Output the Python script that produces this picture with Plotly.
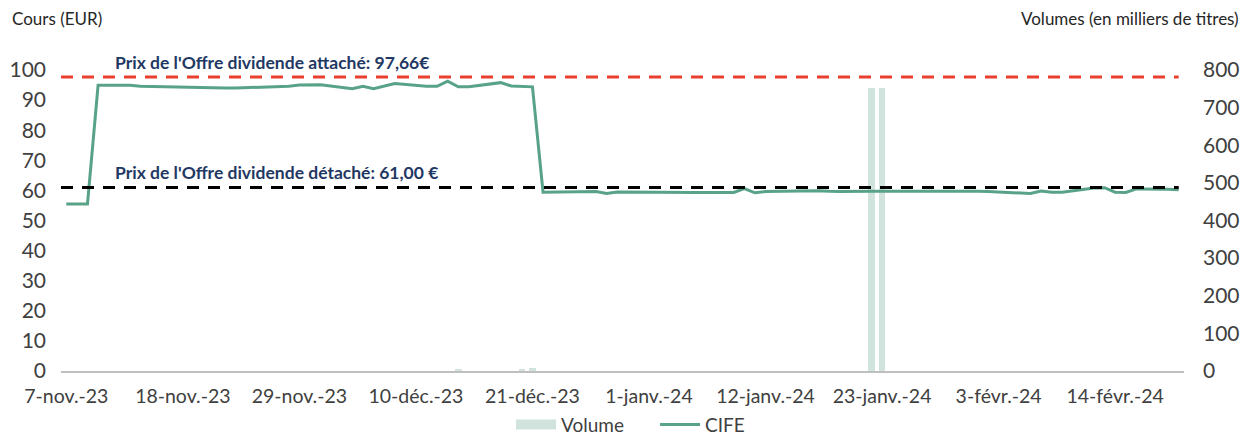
import plotly.graph_objects as go

# Séances de cotation (Euronext Paris)
dates = [
    "2023-11-07", "2023-11-08", "2023-11-09", "2023-11-10",
    "2023-11-13", "2023-11-14", "2023-11-15", "2023-11-16", "2023-11-17",
    "2023-11-20", "2023-11-21", "2023-11-22", "2023-11-23", "2023-11-24",
    "2023-11-27", "2023-11-28", "2023-11-29", "2023-11-30", "2023-12-01",
    "2023-12-04", "2023-12-05", "2023-12-06", "2023-12-07", "2023-12-08",
    "2023-12-11", "2023-12-12", "2023-12-13", "2023-12-14", "2023-12-15",
    "2023-12-18", "2023-12-19", "2023-12-20", "2023-12-21", "2023-12-22",
    "2023-12-27", "2023-12-28", "2023-12-29",
    "2024-01-02", "2024-01-03", "2024-01-04", "2024-01-05",
    "2024-01-08", "2024-01-09", "2024-01-10", "2024-01-11", "2024-01-12",
    "2024-01-15", "2024-01-16", "2024-01-17", "2024-01-18", "2024-01-19",
    "2024-01-22", "2024-01-23", "2024-01-24", "2024-01-25", "2024-01-26",
    "2024-01-29", "2024-01-30", "2024-01-31", "2024-02-01", "2024-02-02",
    "2024-02-05", "2024-02-06", "2024-02-07", "2024-02-08", "2024-02-09",
    "2024-02-12", "2024-02-13", "2024-02-14", "2024-02-15", "2024-02-16",
    "2024-02-19", "2024-02-20",
]

# Cours de clôture CIFE (EUR)
cours = [
    55.5, 55.5, 55.5, 94.9,
    94.9, 94.6, 94.5, 94.5, 94.4,
    94.1, 94.0, 94.0, 94.0, 94.1,
    94.4, 94.6, 95.0, 95.1, 95.1,
    93.8, 94.6, 93.8, 94.6, 95.5,
    94.6, 94.6, 96.3, 94.4, 94.4,
    95.8, 94.7, 94.6, 94.4, 59.4,
    59.6, 59.0, 59.5,
    59.4, 59.3, 59.3, 59.3,
    59.3, 59.3, 60.6, 59.2, 59.6,
    59.9, 59.9, 59.9, 59.7, 59.6,
    59.7, 59.7, 59.7, 59.8, 59.8,
    59.9, 59.9, 59.8, 59.7, 59.6,
    59.0, 59.0, 59.8, 59.4, 59.4,
    60.8, 60.9, 59.4, 59.3, 60.5,
    60.4, 60.2,
]

# Volumes échangés (milliers de titres)
volumes = [
    0, 0, 0, 0,
    0, 0, 0, 0, 0,
    0, 0, 0, 0, 0,
    0, 0, 0, 0, 0,
    0, 0, 0, 0, 0,
    0, 0, 0, 4.5, 0,
    0, 0, 3.5, 8, 0,
    0, 0, 0,
    0, 0, 0, 0,
    0, 0, 0, 0, 0,
    0, 0, 0, 0, 0,
    752, 752, 0, 0, 0,
    0, 0, 0, 0, 0,
    0, 0, 0, 0, 0,
    0, 0, 0, 0, 0,
    0, 0,
]

prix_attache = 97.66
prix_detache = 61.00

tick_dates = ["2023-11-07", "2023-11-18", "2023-11-29", "2023-12-10", "2023-12-21",
              "2024-01-01", "2024-01-12", "2024-01-23", "2024-02-03", "2024-02-14"]
tick_labels = ["7-nov.-23", "18-nov.-23", "29-nov.-23", "10-déc.-23", "21-déc.-23",
               "1-janv.-24", "12-janv.-24", "23-janv.-24", "3-févr.-24", "14-févr.-24"]

FONT = "Lato"
TXT = "#404040"
LINE_C = "#58a387"
BAR_C = "#d0e4dd"
NAVY = "#1f3864"

fig = go.Figure()

# Volumes sur l'axe de droite (tracés sous la courbe)
fig.add_trace(go.Bar(
    x=dates, y=volumes, yaxis="y", name="Volume",
    marker=dict(color=BAR_C, line=dict(width=0)),
    width=0.63 * 86400000, showlegend=False,
))
# Entrée de légende pour les volumes (pastille large)
fig.add_trace(go.Scatter(
    x=[None], y=[None], yaxis="y", mode="lines", name="Volume",
    line=dict(color=BAR_C, width=13),
))
# Cours CIFE sur l'axe de gauche
fig.add_trace(go.Scatter(
    x=dates, y=cours, yaxis="y2", mode="lines", name="CIFE",
    line=dict(color=LINE_C, width=3),
))

x_start = "2023-11-06 12:00"
x_end = "2024-02-20 12:00"

# Prix de l'offre, jusqu'à la dernière séance
for val, col in [(prix_attache, "#ea3f2f"), (prix_detache, "#000000")]:
    fig.add_shape(type="line", xref="x", yref="y2",
                  x0=x_start, x1=dates[-1], y0=val, y1=val,
                  line=dict(color=col, width=3, dash="12px,9px"), layer="above")

fig.add_annotation(
    xref="paper", yref="y2", x=0.0465, y=prix_attache, xanchor="left", yanchor="bottom",
    yshift=2, showarrow=False,
    text="<b>Prix de l'Offre dividende attaché: 97,66€</b>",
    font=dict(family=FONT, size=17.5, color=NAVY),
)
fig.add_annotation(
    xref="paper", yref="y2", x=0.0465, y=prix_detache, xanchor="left", yanchor="bottom",
    yshift=2, showarrow=False,
    text="<b>Prix de l'Offre dividende détaché: 61,00 €</b>",
    font=dict(family=FONT, size=17.5, color=NAVY),
)

# Titres des axes
fig.add_annotation(
    xref="paper", yref="paper", x=-0.045, y=1.0, yshift=52,
    xanchor="left", yanchor="middle", showarrow=False,
    text="Cours (EUR)", font=dict(family=FONT, size=17, color="#262626"),
)
fig.add_annotation(
    xref="paper", yref="paper", x=1.0505, y=1.0, yshift=52,
    xanchor="right", yanchor="middle", showarrow=False,
    text="Volumes (en milliers de titres)", font=dict(family=FONT, size=17, color="#262626"),
)

fig.update_layout(
    width=1246, height=435,
    margin=dict(l=61, r=62, t=70, b=64, autoexpand=False),
    paper_bgcolor="white", plot_bgcolor="white",
    font=dict(family=FONT, color=TXT),
    bargap=0,
    xaxis=dict(
        type="date", range=[x_start, x_end], automargin=False,
        tickvals=tick_dates, ticktext=tick_labels,
        showgrid=False, zeroline=False,
        showline=True, linecolor="#bfbfbf", linewidth=2,
        ticks="", tickfont=dict(family=FONT, size=19.5, color=TXT),
        ticklabelstandoff=7,
    ),
    yaxis=dict(
        side="right", range=[0, 800], dtick=100, automargin=False,
        showgrid=False, zeroline=False, showline=False, ticks="",
        tickfont=dict(family=FONT, size=21, color=TXT),
        ticklabelstandoff=18,
    ),
    yaxis2=dict(
        side="left", overlaying="y", range=[0, 100], dtick=10, automargin=False,
        showgrid=False, zeroline=False, showline=False, ticks="",
        tickfont=dict(family=FONT, size=21, color=TXT),
        ticklabelstandoff=14,
    ),
    legend=dict(
        orientation="h", x=0.529, xanchor="center",
        yref="container", y=0.024, yanchor="middle",
        bgcolor="rgba(0,0,0,0)",
        font=dict(family=FONT, size=19, color=TXT),
        itemwidth=40, entrywidth=89, entrywidthmode="pixels",
        traceorder="normal",
    ),
)

fig.write_html("out.html")
